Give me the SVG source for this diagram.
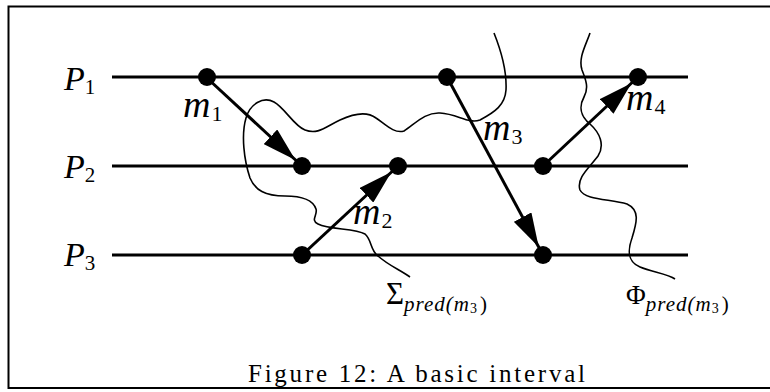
<svg xmlns="http://www.w3.org/2000/svg" width="770" height="392" viewBox="0 0 770 392">
<style>
.proc{stroke:#000;stroke-width:3;fill:none}
.msg{stroke:#000;stroke-width:3;fill:none;marker-end:url(#ah)}
.cut{stroke:#000;stroke-width:1.6;fill:none}
.dot{fill:#000}
.lbl{font-family:"Liberation Serif",serif;font-style:italic;fill:#000}
.up{font-family:"Liberation Serif",serif;fill:#000}
.sub{font-style:normal;font-size:21px}
.msub{font-style:normal;font-size:22px}
</style>
<defs>
<marker id="ah" markerUnits="userSpaceOnUse" viewBox="0 0 44 20" markerWidth="44" markerHeight="20" refX="43" refY="10" orient="auto">
<path d="M0,0 L34,10 L0,20 Z" fill="#000"/>
</marker>
</defs>
<rect width="770" height="392" fill="#fff"/>
<path d="M775,6.5 H8.5 V388 H775" stroke="#000" stroke-width="2" fill="none"/>

<g id="cuts">
<path id="sigma-cut" class="cut" d="M494,33 C500,48 507,70 506,90 C505,105 495,112 480,120 C468,124 458,114 440,113 C425,112 415,124 404,131 C394,134 385,124 376,118 C368,112 355,113 340,120 C325,127 318,135 305,130 C294,126 285,108 274,102 C263,96 250,104 246,118 C241,135 244,160 250,178 C255,190 265,196 285,196 C302,196 313,200 316,209 C318,215 310,220 318,224 C330,230 355,228 365,234 C372,240 370,250 378,256 C388,265 400,270 410,277"/>
<path id="phi-cut" class="cut" d="M590,33 C586,45 578,58 582,70 C586,80 589,88 584,97 C579,106 580,116 590,124 C600,133 605,145 598,156 C590,167 576,178 580,190 C585,200 610,199 627,204 C640,210 637,222 632,238 C627,252 628,262 640,267 C652,272 668,274 675,279"/>
</g>

<g id="P1"><path class="proc" d="M112,77 H688"/><text class="lbl" x="64" y="90" font-size="34">P<tspan class="sub" dx="0" dy="4">1</tspan></text></g>
<g id="P2"><path class="proc" d="M112,166 H688"/><text class="lbl" x="64" y="178" font-size="34">P<tspan class="sub" dx="0" dy="4">2</tspan></text></g>
<g id="P3"><path class="proc" d="M112,255 H688"/><text class="lbl" x="64" y="266" font-size="34">P<tspan class="sub" dx="0" dy="4">3</tspan></text></g>

<g id="connectors">
<path id="m1" class="msg" d="M207,78 L302,166"/>
<path id="m2" class="msg" d="M302,255 L398,166"/>
<path id="m3" class="msg" d="M447,77 L543,255"/>
<path id="m4" class="msg" d="M543,166 L638,77"/>
</g>

<g id="events">
<circle class="dot" cx="207" cy="77" r="9"/>
<circle class="dot" cx="447" cy="77" r="9"/>
<circle class="dot" cx="638" cy="77" r="9"/>
<circle class="dot" cx="302" cy="166" r="9"/>
<circle class="dot" cx="398" cy="166" r="9"/>
<circle class="dot" cx="543" cy="166" r="9"/>
<circle class="dot" cx="302" cy="255" r="9"/>
<circle class="dot" cx="543" cy="255" r="9"/>
</g>

<g id="labels">
<text class="lbl" x="183" y="117" font-size="38">m<tspan class="msub" dx="1" dy="4">1</tspan></text>
<text class="lbl" x="353" y="224" font-size="38">m<tspan class="msub" dx="1" dy="4">2</tspan></text>
<text class="lbl" x="483" y="140" font-size="38">m<tspan class="msub" dx="1" dy="4">3</tspan></text>
<text class="lbl" x="626" y="110" font-size="38">m<tspan class="msub" dx="1" dy="4">4</tspan></text>
<text class="up" x="386" y="304" font-size="31">Σ<tspan class="lbl" font-size="21" dy="7" letter-spacing="1">pred(m<tspan font-style="normal" font-size="14" dy="2">3</tspan><tspan font-style="normal" dy="-2" dx="2">)</tspan></tspan></text>
<text class="up" x="626" y="304" font-size="27">Φ<tspan class="lbl" font-size="21" dy="7" letter-spacing="1">pred(m<tspan font-style="normal" font-size="14" dy="2">3</tspan><tspan font-style="normal" dy="-2" dx="2">)</tspan></tspan></text>
</g>

<text id="caption" class="up" x="248" y="382" font-size="25" textLength="337" lengthAdjust="spacing">Figure 12: A basic interval</text>
</svg>
